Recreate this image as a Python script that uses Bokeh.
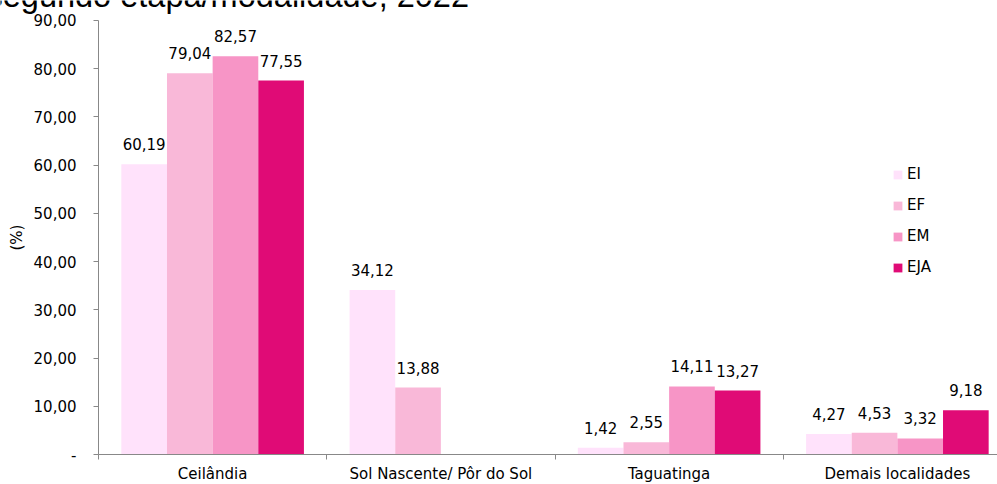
from bokeh.plotting import figure
from bokeh.models import Range1d, FixedTicker, ColumnDataSource, Label, Legend, LegendItem
from bokeh.embed import file_html
from bokeh.resources import INLINE
from bokeh.core.properties import value

# ---- data ----
categories = ["Ceilândia", "Sol Nascente/ Pôr do Sol", "Taguatinga", "Demais localidades"]
series_names = ["EI", "EF", "EM", "EJA"]
ei = [60.19, 34.12, 1.42, 4.27]
ef = [79.04, 13.88, 2.55, 4.53]
em = [82.57, None, 14.11, 3.32]
eja = [77.55, None, 13.27, 9.18]
y_ticks = [0, 10, 20, 30, 40, 50, 60, 70, 80, 90]
title_text = "segundo etapa/modalidade, 2022"
y_label = "(%)"

series_values = [ei, ef, em, eja]
colors = ["#FFE2FB", "#F9B8D8", "#F795C6", "#E00B76"]
FONT = "DejaVu Sans"
TITLE_FONT = "Liberation Sans"
AXIS_COLOR = "#888888"

# the plotting frame fills the whole canvas; axes sit at data 0 (fixed_location)
n_cat = len(categories)
y_max = 90
p = figure(width=997, height=484, output_backend="svg", toolbar_location=None,
           x_range=Range1d(-0.4294, 3.9387), y_range=Range1d(-6.221, 94.147),
           min_border_left=0, min_border_right=0, min_border_top=0, min_border_bottom=0)
p.outline_line_color = None
p.xgrid.grid_line_color = None
p.ygrid.grid_line_color = None
p.background_fill_color = "white"
p.border_fill_color = "white"

bar_w = 0.2
legend_items = []
for i, (name, vals, col) in enumerate(zip(series_names, series_values, colors)):
    xs, ys, labels = [], [], []
    for ci, v in enumerate(vals):
        if v is None:
            continue
        xs.append(ci + 0.2 + 0.2 * i)
        ys.append(v)
        labels.append(f"{v:.2f}".replace(".", ","))
    src = ColumnDataSource(dict(x=xs, top=ys, label=labels))
    r = p.vbar(x="x", top="top", width=bar_w, bottom=0, source=src,
               fill_color=col, line_color=None)
    legend_items.append(LegendItem(label=name, renderers=[r]))
    p.text(x="x", y="top", text="label", source=src, text_align="center",
           text_baseline="alphabetic", y_offset=-20, text_font=value(FONT),
           text_font_size="15px", text_color="black")

legend = Legend(items=legend_items, location=(892, 207), orientation="vertical",
                glyph_width=11, glyph_height=11, label_height=20, spacing=11,
                label_standoff=4, padding=0, margin=0,
                border_line_color=None, background_fill_alpha=0,
                label_text_font=FONT, label_text_font_size="15px", label_text_color="black")
p.add_layout(legend, "center")

# y axis
yax = p.yaxis[0]
yax.fixed_location = 0
yax.bounds = (0, y_max)
yax.ticker = FixedTicker(ticks=y_ticks)
yax.major_label_overrides = {t: ("-" if t == 0 else f"{t:.2f}".replace(".", ",")) for t in y_ticks}
yax.axis_line_color = AXIS_COLOR
yax.major_tick_line_color = AXIS_COLOR
yax.major_tick_out = 5
yax.major_tick_in = 0
yax.minor_tick_line_color = None
yax.major_label_standoff = 17
yax.major_label_text_font = FONT
yax.major_label_text_font_size = "15px"
yax.major_label_text_color = "black"
yax.axis_label = y_label
yax.axis_label_text_font = FONT
yax.axis_label_text_font_size = "15px"
yax.axis_label_text_font_style = "normal"
yax.axis_label_text_color = "black"
yax.axis_label_standoff = 5

# x axis
xax = p.xaxis[0]
xax.fixed_location = 0
xax.bounds = (0, 3.9387)
centers = [i + 0.5 for i in range(n_cat)]
bounds = [float(i) for i in range(n_cat + 1)]
xax.ticker = FixedTicker(ticks=centers, minor_ticks=bounds)
xax.major_label_overrides = {c: lab for c, lab in zip(centers, categories)}
xax.axis_line_color = AXIS_COLOR
xax.major_tick_line_color = None
xax.major_tick_out = 5
xax.major_tick_in = 0
xax.minor_tick_line_color = AXIS_COLOR
xax.minor_tick_out = 5
xax.minor_tick_in = 0
xax.major_label_standoff = 5
xax.major_label_text_font = FONT
xax.major_label_text_font_size = "15px"
xax.major_label_text_color = "black"

title = Label(x=-14, y=489, x_units="screen", y_units="screen", text=title_text,
              text_font=TITLE_FONT, text_font_size="32.5px", text_baseline="alphabetic",
              text_color="black")
p.add_layout(title)

open("out.html", "w").write(file_html(p, INLINE))
